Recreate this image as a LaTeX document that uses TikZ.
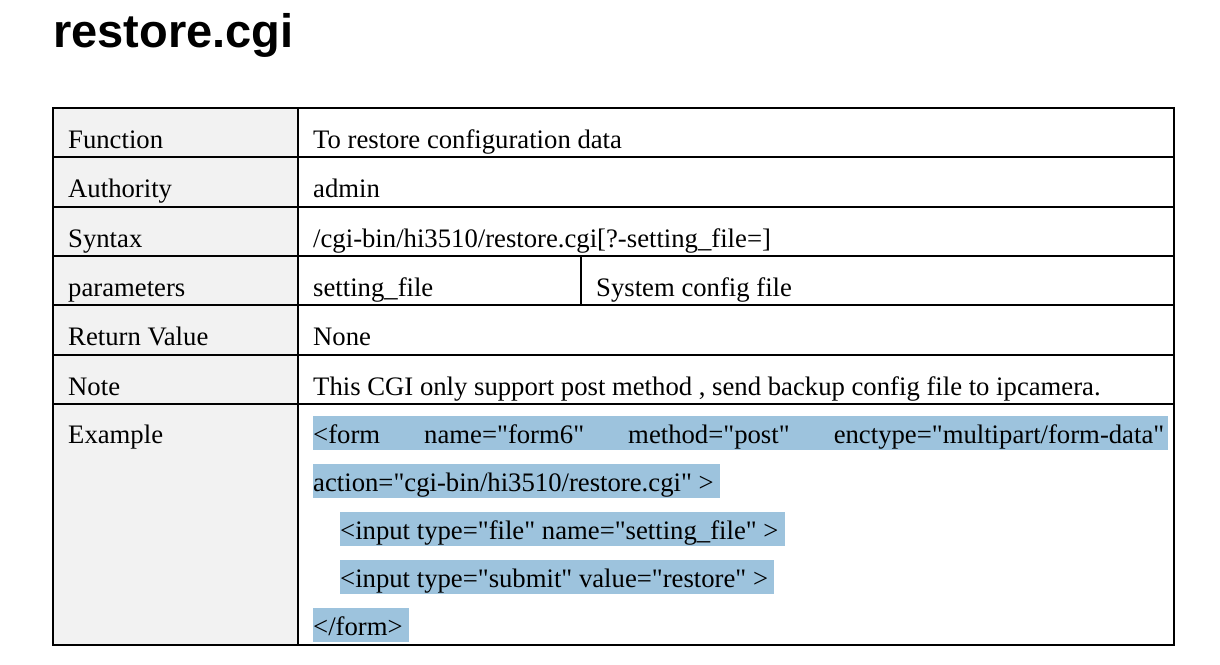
\documentclass[tikz,border=0pt]{standalone}
\usepackage{fontspec}
\setmainfont{Liberation Serif}[Ligatures=TeXOff]
\newfontfamily\headfont{Liberation Sans}
\usepackage{tikz}
\definecolor{cellgray}{RGB}{242,242,242}
\definecolor{markblue}{RGB}{157,195,221}
\tikzset{
  cell/.style={anchor=base west, inner sep=0pt, font=\fontsize{26.7}{30}\selectfont},
  grid/.style={line width=2pt, color=black},
}
\begin{document}
\begin{tikzpicture}[x=1pt, y=-1pt]
		%%%%% FRAME %%%%%
		\useasboundingbox (0, 0) rectangle (1220, 664);
		
		\node[anchor=base west, inner sep=0pt, font=\headfont\bfseries\fontsize{47}{50}\selectfont] (title) at (53, 47.5) {restore.cgi};
		
		\fill[cellgray] (53, 108) rectangle (298, 645);
		
		%%%%% HIGHLIGHTS %%%%%
		\fill[markblue] (313, 416) rectangle (1168, 450);
		\fill[markblue] (313, 464) rectangle (720, 498);
		\fill[markblue] (340, 512) rectangle (785, 546);
		\fill[markblue] (340, 560) rectangle (774, 594);
		\fill[markblue] (313, 608) rectangle (409, 642);
		
		%%%%% GRID %%%%%
		\foreach \y in {157, 207, 256, 305, 355, 404}
			\draw[grid] (53, \y) -- (1174, \y);
		\draw[grid] (298, 108) -- (298, 645);
		\draw[grid] (581, 256) -- (581, 305);
		\draw[grid] (53, 108) rectangle (1174, 645);
		
		%%%%% LABELS %%%%%
		\node[cell] (func) at (68, 148) {Function};
		\node[cell] (auth) at (68, 197.5) {Authority};
		\node[cell] (syn) at (68, 247) {Syntax};
		\node[cell] (par) at (68, 296) {parameters};
		\node[cell] (ret) at (68, 345.5) {Return Value};
		\node[cell] (note) at (68, 395) {Note};
		\node[cell] (exa) at (68, 443) {Example};
		
		\node[cell] (funcv) at (313, 148) {To restore configuration data};
		\node[cell] (authv) at (313, 197.5) {admin};
		\node[cell] (synv) at (313, 247) {/cgi-bin/hi3510/restore.cgi[?-setting\_file=]};
		\node[cell] (parv) at (313, 296) {setting\_file};
		\node[cell] (pard) at (596, 296) {System config file};
		\node[cell] (retv) at (313, 345.5) {None};
		\node[cell] (notev) at (313, 395) {This CGI only support post method , send backup config file to ipcamera.};
		
		%%%%% EXAMPLE CODE %%%%%
		\node[cell] (form) at (313, 443) {\hbox to 851pt{<form\hfill name="form6"\hfill method="post"\hfill enctype="multipart/form-data"}};
		\node[cell] (act) at (313, 491) {action="cgi-bin/hi3510/restore.cgi" >};
		\node[cell] (inf) at (340, 539) {<input type="file" name="setting\_file" >};
		\node[cell] (ins) at (340, 587) {<input type="submit" value="restore" >};
		\node[cell] (endf) at (313, 635) {</form>};
		
		%%%%% END %%%%%
\end{tikzpicture}
\end{document}
